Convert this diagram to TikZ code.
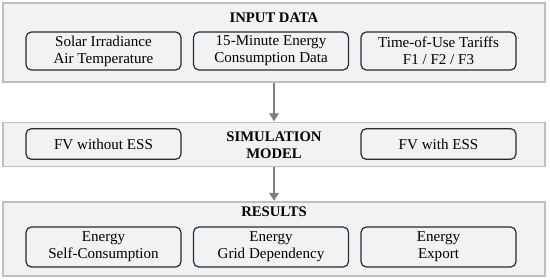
\documentclass[tikz,border=0pt]{standalone}
\usepackage{fontspec}
\setmainfont{Liberation Serif}
\usepackage{xcolor}
\usepackage{tikz}
\usetikzlibrary{arrows.meta}
\definecolor{panelfill}{RGB}{242, 242, 242}
\definecolor{paneldraw}{RGB}{191, 191, 191}
\definecolor{boxdraw}{RGB}{30, 45, 60}
\definecolor{arrowgray}{RGB}{125, 125, 125}

\begin{document}
\begin{tikzpicture}[x=0.75pt, y=-0.75pt, >={Triangle[length=6pt, width=7pt]},
  panel/.style={draw=paneldraw, fill=panelfill, line width=0.8pt, minimum width=406.5pt, inner sep=0pt},
  item/.style={draw=boxdraw, fill=panelfill, line width=0.9pt, rounded corners=4pt, minimum width=116.25pt, align=center, font=\fontsize{11.3}{12.8}\selectfont, inner sep=1pt},
  title/.style={font=\fontsize{11}{12.8}\selectfont\bfseries, align=center},
  flow/.style={->, arrowgray, line width=2.2pt, shorten >=0.5pt}]
  \useasboundingbox (0,0) rectangle (550,279);

  % Input panel
  \node[panel, minimum height=59.25pt] (input) at (274, 42.5) {};
  \node[title] (inputtitle) at (274, 18) {INPUT DATA};
  \node[item, minimum height=28.5pt] (solar) at (103.5, 51) {Solar Irradiance\\Air Temperature};
  \node[item, minimum height=28.5pt] (load) at (271, 51) {15-Minute Energy\\Consumption Data};
  \node[item, minimum height=28.5pt] (tariff) at (438.5, 51) {Time-of-Use Tariffs\\F1 / F2 / F3};

  % Simulation panel
  \node[panel, minimum height=33pt] (sim) at (274, 144.5) {};
  \node[title] (simtitle) at (274, 145) {SIMULATION\\MODEL};
  \node[item, minimum height=23pt] (noess) at (103.5, 144) {FV without ESS};
  \node[item, minimum height=23pt] (withess) at (438.5, 144) {FV with ESS};

  % Results panel
  \node[panel, minimum height=55.5pt] (results) at (274, 239) {};
  \node[title] (resultstitle) at (274, 212) {RESULTS};
  \node[item, minimum height=30pt] (selfcons) at (103.5, 247) {Energy\\Self-Consumption};
  \node[item, minimum height=30pt] (grid) at (271, 247) {Energy\\Grid Dependency};
  \node[item, minimum height=30pt] (export) at (438.5, 247) {Energy\\Export};

  % Flow between panels
  \draw[flow] (input.south) -- (sim.north);
  \draw[flow] (sim.south) -- (results.north);
\end{tikzpicture}
\end{document}
